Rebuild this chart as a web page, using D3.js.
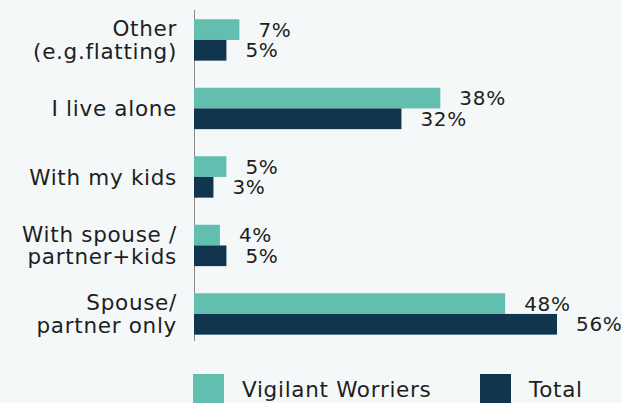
<!DOCTYPE html>
<html>
<head>
<meta charset="utf-8">
<script src="https://cdn.jsdelivr.net/npm/d3@7"></script>
<style>
  html, body { margin: 0; padding: 0; background: #f4f8f8; }
  svg { display: block; }
  text { font-family: "DejaVu Sans", sans-serif; fill: #1e1e1e; letter-spacing: 0.7px; }
</style>
</head>
<body>
<svg id="chart" width="622" height="403"></svg>
<script>
// Living arrangement categories, top to bottom
const categories = [
  ["Other", "(e.g.flatting)"],
  ["I live alone"],
  ["With my kids"],
  ["With spouse /", "partner+kids"],
  ["Spouse/", "partner only"]
];
const seriesNames = ["Vigilant Worriers", "Total"];
const vigilantWorriers = [7, 38, 5, 4, 48];
const total = [5, 32, 3, 5, 56];
const colors = ["#62bfb0", "#11344f"];

const svg = d3.select("#chart");
const left = 194;
const fontSize = 21.5;
const valueFontSize = 20;

const catKeys = categories.map((c, i) => i);
const values = [vigilantWorriers, total];

const x = d3.scaleLinear().domain([0, 56]).range([left, 557]);
const y = d3.scaleBand().domain(catKeys).range([5.7, 348.2])
  .paddingInner(0.396).paddingOuter(0.198);
const ySub = d3.scaleBand().domain([0, 1]).range([0, y.bandwidth()]);

// vertical axis line
svg.append("line")
  .attr("x1", left + 0.5).attr("x2", left + 0.5)
  .attr("y1", 10).attr("y2", 341)
  .attr("stroke", "#8a8a8a").attr("stroke-width", 1);

// bars and value labels
values.forEach((vals, s) => {
  svg.append("g").selectAll("rect")
    .data(vals)
    .join("rect")
    .attr("x", x(0))
    .attr("y", (d, i) => y(i) + ySub(s))
    .attr("width", d => x(d) - x(0))
    .attr("height", ySub.bandwidth())
    .attr("fill", colors[s]);

  svg.append("g").selectAll("text")
    .data(vals)
    .join("text")
    .attr("x", d => x(d) + 19)
    .attr("y", (d, i) => y(i) + ySub(s) + ySub.bandwidth() / 2)
    .attr("dy", "0.36em")
    .attr("font-size", valueFontSize)
    .text(d => d + "%");
});

// category labels
const catG = svg.append("g");
categories.forEach((lines, i) => {
  const cy = y(i) + y.bandwidth() / 2;
  const lh = 22.5;
  const t = catG.append("text")
    .attr("text-anchor", "end")
    .attr("font-size", fontSize);
  lines.forEach((ln, j) => {
    t.append("tspan")
      .attr("x", 177)
      .attr("y", cy + (j - (lines.length - 1) / 2) * lh)
      .attr("dy", "0.36em")
      .text(ln);
  });
});

// legend
const legend = svg.append("g");
const legendX = [193, 480];
seriesNames.forEach((name, s) => {
  legend.append("rect")
    .attr("x", legendX[s]).attr("y", 374)
    .attr("width", 31).attr("height", 31)
    .attr("fill", colors[s]);
  legend.append("text")
    .attr("x", legendX[s] + 49).attr("y", 389)
    .attr("dy", "0.36em")
    .attr("font-size", fontSize)
    .text(name);
});
</script>
</body>
</html>
